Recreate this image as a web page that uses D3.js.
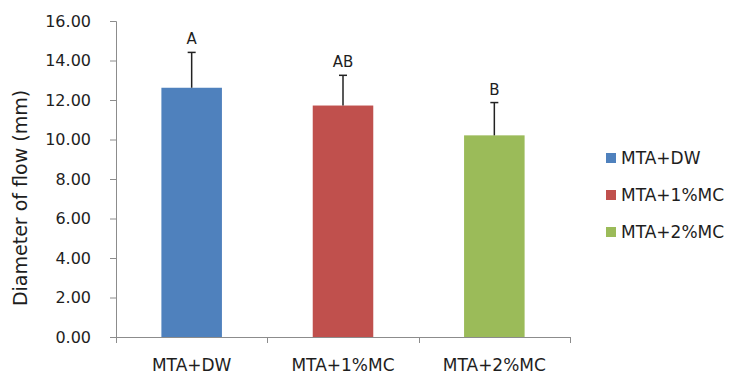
<!DOCTYPE html>
<html>
<head>
<meta charset="utf-8">
<script src="https://cdnjs.cloudflare.com/ajax/libs/d3/7.8.5/d3.min.js"></script>
<style>
    body { margin: 0; background: #fff; }
    svg text { font-family: "DejaVu Sans", sans-serif; }
</style>
</head>
<body>
<div id="chart"></div>
<script>
// data
var categories = ["MTA+DW", "MTA+1%MC", "MTA+2%MC"];
var means = [12.62, 11.72, 10.21];
var errors = [1.79, 1.53, 1.66];
var letters = ["A", "AB", "B"];
var yTicks = [0, 2, 4, 6, 8, 10, 12, 14, 16];
var colors = ["#4F81BD", "#C0504D", "#9BBB59"];

(function () {
    "use strict";

    var vWidth = 730, vHeight = 376;
    var vMargin = { mTop: 21, mLeft: 116, mRight: 160, mBottom: 39 };
    var vPlotW = vWidth - vMargin.mLeft - vMargin.mRight,
        vPlotH = vHeight - vMargin.mTop - vMargin.mBottom;

    var svg = d3.select("#chart")
        .append("svg")
        .attr("width", vWidth)
        .attr("height", vHeight);

    var g = svg.append("g")
        .attr("transform", "translate(" + vMargin.mLeft + "," + vMargin.mTop + ")");

    // scales
    var vX = d3.scaleBand()
        .domain(categories)
        .range([0, vPlotW])
        .paddingInner(0.6)
        .paddingOuter(0.3);
    var vXOuter = d3.scaleBand()
        .domain(categories)
        .range([0, vPlotW]);
    var vY = d3.scaleLinear()
        .domain([0, 16])
        .range([vPlotH, 0]);

    // y axis
    var yAxis = g.append("g")
        .call(d3.axisLeft(vY).tickValues(yTicks).tickSize(6).tickPadding(19)
            .tickFormat(d3.format(".2f")));
    yAxis.select(".domain").attr("stroke", "#8c8c8c").attr("d", "M-6,0.5H0.5V" + vPlotH);
    yAxis.selectAll(".tick line").attr("stroke", "#8c8c8c");
    yAxis.selectAll("text")
        .attr("fill", "#1e1e1e")
        .style("font-size", "16px");

    // x axis, ticks between categories
    var xAxis = g.append("g")
        .attr("transform", "translate(0," + vPlotH + ")");
    xAxis.append("line")
        .attr("x1", 0).attr("x2", vPlotW)
        .attr("y1", 0.5).attr("y2", 0.5)
        .attr("stroke", "#8c8c8c");
    var vBounds = categories.map(function (c) { return vXOuter(c); }).concat([vPlotW]);
    xAxis.selectAll("line.tk")
        .data(vBounds)
        .enter()
        .append("line")
        .attr("class", "tk")
        .attr("x1", function (d) { return Math.round(d) + 0.5; })
        .attr("x2", function (d) { return Math.round(d) + 0.5; })
        .attr("y1", 0).attr("y2", 6)
        .attr("stroke", "#8c8c8c");
    xAxis.selectAll("text")
        .data(categories)
        .enter()
        .append("text")
        .attr("x", function (d) { return vXOuter(d) + vXOuter.bandwidth() / 2; })
        .attr("y", 34)
        .attr("text-anchor", "middle")
        .attr("fill", "#1e1e1e")
        .style("font-size", "17px")
        .text(function (d) { return d; });

    // y title
    svg.append("text")
        .attr("transform", "translate(27,198)rotate(-90)")
        .attr("text-anchor", "middle")
        .attr("fill", "#1e1e1e")
        .style("font-size", "19px")
        .text("Diameter of flow (mm)");

    // bars
    g.selectAll("rect.bar")
        .data(categories)
        .enter()
        .append("rect")
        .attr("class", "bar")
        .attr("x", function (d) { return vX(d); })
        .attr("y", function (d, i) { return vY(means[i]); })
        .attr("width", vX.bandwidth())
        .attr("height", function (d, i) { return vPlotH - vY(means[i]); })
        .attr("fill", function (d, i) { return colors[i]; });

    // error bars (upper only)
    var eb = g.selectAll("g.err")
        .data(categories)
        .enter()
        .append("g")
        .attr("class", "err");
    eb.append("line")
        .attr("x1", function (d) { return vX(d) + vX.bandwidth() / 2; })
        .attr("x2", function (d) { return vX(d) + vX.bandwidth() / 2; })
        .attr("y1", function (d, i) { return vY(means[i]); })
        .attr("y2", function (d, i) { return vY(means[i] + errors[i]); })
        .attr("stroke", "#222")
        .attr("stroke-width", 1.5);
    eb.append("line")
        .attr("x1", function (d) { return vX(d) + vX.bandwidth() / 2 - 4; })
        .attr("x2", function (d) { return vX(d) + vX.bandwidth() / 2 + 4; })
        .attr("y1", function (d, i) { return vY(means[i] + errors[i]); })
        .attr("y2", function (d, i) { return vY(means[i] + errors[i]); })
        .attr("stroke", "#222")
        .attr("stroke-width", 1.5);

    // significance letters
    g.selectAll("text.sig")
        .data(categories)
        .enter()
        .append("text")
        .attr("class", "sig")
        .attr("x", function (d) { return vX(d) + vX.bandwidth() / 2; })
        .attr("y", function (d, i) { return vY(means[i] + errors[i]) - 8; })
        .attr("text-anchor", "middle")
        .attr("fill", "#1e1e1e")
        .style("font-size", "15px")
        .text(function (d, i) { return letters[i]; });

    // legend
    var lg = svg.append("g")
        .attr("transform", "translate(606,158)");
    var li = lg.selectAll("g")
        .data(categories)
        .enter()
        .append("g")
        .attr("transform", function (d, i) { return "translate(0," + (i * 37) + ")"; });
    li.append("rect")
        .attr("x", 0).attr("y", -5)
        .attr("width", 10).attr("height", 10)
        .attr("fill", function (d, i) { return colors[i]; });
    li.append("text")
        .attr("x", 15).attr("y", 6)
        .attr("fill", "#1e1e1e")
        .style("font-size", "17px")
        .text(function (d) { return d; });
})();
</script>
</body>
</html>
